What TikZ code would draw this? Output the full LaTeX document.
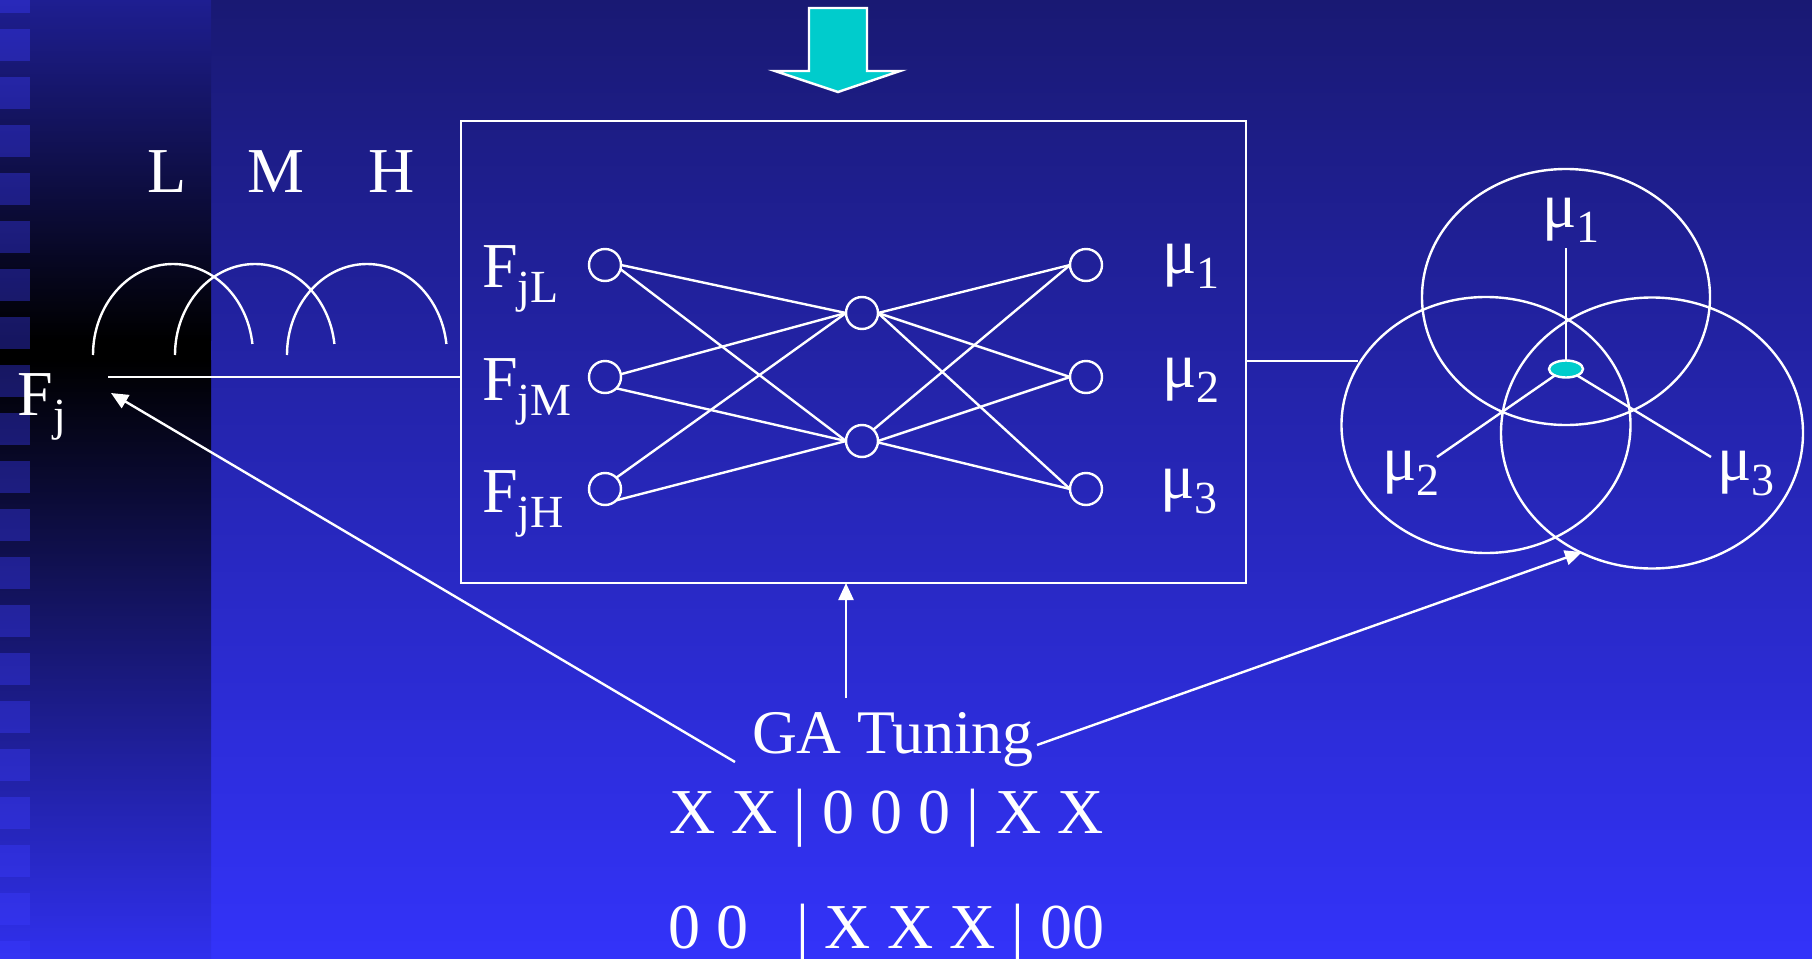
\documentclass[tikz,border=0pt]{standalone}
\usepackage{fontspec}
\setmainfont{Liberation Serif}
\usetikzlibrary{arrows.meta,shapes.geometric}
\definecolor{bgtop}{RGB}{25,25,115}
\definecolor{bgbot}{RGB}{51,51,250}
\definecolor{striptop}{RGB}{30,30,145}
\definecolor{stripbot}{RGB}{48,48,238}
\definecolor{sqcol}{RGB}{60,60,255}
\definecolor{acyan}{RGB}{0,204,204}
\newcommand{\mysub}[1]{\raisebox{-0.24em}{\fontsize{23}{26}\selectfont #1}}
\begin{document}
\begin{tikzpicture}[x=0.5pt,y=-0.5pt,
  txt/.style={text=white, inner sep=0pt, outer sep=0pt, anchor=base west, font=\fontsize{32}{38}\selectfont},
  neuron/.style={circle, draw=white, line width=1.2pt, minimum size=16pt, inner sep=0pt, outer sep=0pt},
  wire/.style={draw=white, line width=1.2pt},
  arr/.style={wire, -{Triangle[length=8.5pt,width=7.5pt]}}]
\useasboundingbox (0,0) rectangle (1812,959);
% background
\shade[top color=bgtop, bottom color=bgbot] (0,0) rectangle (1812,959);
\shade[top color=striptop, bottom color=black] (0,0) rectangle (211,340);
\fill[black] (0,340) rectangle (211,360);
\shade[top color=black, bottom color=stripbot] (0,360) rectangle (211,959);
\foreach \k in {0,...,20} {
  \fill[sqcol, opacity=0.38] (0,-19+48*\k) rectangle (30,13+48*\k);
}
% top arrow
\draw[white, line width=1.2pt, fill=acyan, line join=miter] (809,8) -- (867,8) -- (867,71) -- (900,71) -- (838,92) -- (775,71) -- (809,71) -- cycle;
% L M H
\node[txt] (lL) at (147,192) {L};
\node[txt] (lM) at (247,192) {M};
\node[txt] (lH) at (368,192) {H};
\draw[wire] (93,355) arc[start angle=180, end angle=353, x radius=80, y radius=91];
\draw[wire] (175,355) arc[start angle=180, end angle=353, x radius=80, y radius=91];
\draw[wire] (287,355) arc[start angle=180, end angle=353, x radius=80, y radius=91];
% Fj
\node[txt] (fj) at (18,415) {F\mysub{j}};
\coordinate (fjs) at (108,377);
\coordinate (fjtip) at (111,393);
% box
\node[draw=white, line width=1.2pt, minimum width=392.5pt, minimum height=231pt, inner sep=0pt, outer sep=0pt] (box) at (853.5,352) {};
% network
\node[neuron] (i1) at (605,265) {};
\node[neuron] (i2) at (605,377) {};
\node[neuron] (i3) at (605,489) {};
\node[neuron] (h1) at (862,313) {};
\node[neuron] (h2) at (862,441) {};
\node[neuron] (o1) at (1086,265) {};
\node[neuron] (o2) at (1086,377) {};
\node[neuron] (o3) at (1086,489) {};
\draw[wire] (i1.east) -- (h1.west);
\draw[wire] (i1.-15) -- (h2.west);
\draw[wire] (i2.10) -- (h1.west);
\draw[wire] (i2.-45) -- (h2.west);
\draw[wire] (i3.45) -- (h1.west);
\draw[wire] (i3.-45) -- (h2.west);
\draw[wire] (h1.east) -- (o1.west);
\draw[wire] (h1.east) -- (o2.west);
\draw[wire] (h1.east) -- (o3.west);
\draw[wire] (h2.45) -- (o1.west);
\draw[wire] (h2.east) -- (o2.west);
\draw[wire] (h2.-5) -- (o3.west);
\node[txt] (fjl) at (482,287) {F\mysub{jL}};
\node[txt] (fjm) at (482,400) {F\mysub{jM}};
\node[txt] (fjh) at (482,512) {F\mysub{jH}};
\node[txt] (mu1) at (1162,273) {μ\mysub{1}};
\node[txt] (mu2) at (1162,387) {μ\mysub{2}};
\node[txt] (mu3) at (1160,498) {μ\mysub{3}};
% connector Fj -> box
\draw[wire] (fjs) -- (box.west |- i2);
% right ellipses
\draw[wire] (1566,297) ellipse [x radius=144, y radius=128];
\draw[wire] (1486,425) ellipse [x radius=144.5, y radius=128];
\draw[wire] (1652,433) ellipse [x radius=151, y radius=135.5];
\node[ellipse, draw=white, line width=1.2pt, fill=acyan, minimum width=17pt, minimum height=8.5pt, inner sep=0pt, outer sep=0pt] (ctr) at (1566,369) {};
\coordinate (m1end) at (1566,248);
\coordinate (m2end) at (1437,457);
\coordinate (m3end) at (1711,457);
\draw[wire] (ctr.north) -- (m1end);
\draw[wire] (ctr.210) -- (m2end);
\draw[wire] (ctr.-30) -- (m3end);
\node[txt] (rmu1) at (1542,227) {μ\mysub{1}};
\node[txt] (rmu2) at (1382,480) {μ\mysub{2}};
\node[txt] (rmu3) at (1717,480) {μ\mysub{3}};
\coordinate (rl) at (1358,361);
\draw[wire] (box.east |- rl) -- (rl);
% GA tuning
\node[txt, font=\fontsize{31}{36}\selectfont] (ga) at (752,753) {GA Tuning};
\coordinate (gaL) at (735,762);
\coordinate (gaR) at (1037,745);
\coordinate (gaU) at (846,698);
\coordinate (elltip) at (1582,552);
\draw[arr] (gaL) -- (fjtip);
\draw[arr] (gaR) -- (elltip);
\draw[arr] (gaU) -- (gaU |- box.south);
\node[txt] (code1) at (669,833) {X X | 0 0 0 | X X};
\node[txt] (code2a) at (668,948) {0 0};
\node[txt] (code2b) at (796,948) {| X X X | 00};
\end{tikzpicture}
\end{document}
